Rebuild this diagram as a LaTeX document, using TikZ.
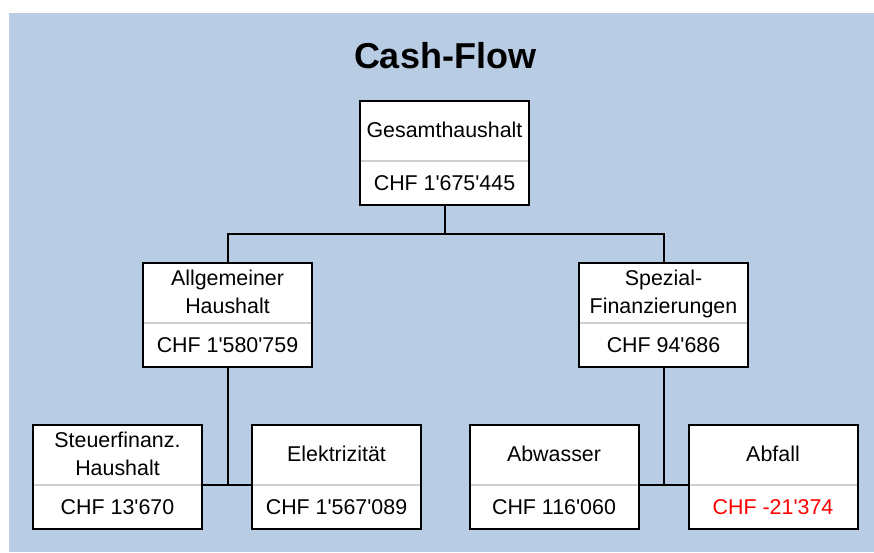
\documentclass[tikz,border=0pt]{standalone}
\usepackage{fontspec}
\setmainfont{Liberation Sans}
\usetikzlibrary{calc}
\definecolor{bgblue}{HTML}{B8CCE4}
\definecolor{divgray}{HTML}{D0D0D0}
\definecolor{negred}{HTML}{FF0000}
\newcommand\ap{\textquotesingle}
\tikzset{
 cfbox/.style={draw=black, line width=2pt, fill=white, minimum width=169pt, minimum height=104pt, inner sep=0pt, outer sep=0pt, anchor=north},
 lbl/.style={font=\fontsize{21.4}{27.5}\selectfont, align=center, inner sep=0pt, outer sep=0pt},
 single/.style={anchor=base, yshift=-36.5pt},
 multi/.style={anchor=north, yshift=-7.4pt},
 divline/.style={draw=divgray, line width=2pt},
 conn/.style={draw=black, line width=2pt},
 titlestyle/.style={font=\bfseries\fontsize{36}{42}\selectfont, anchor=base, inner sep=0pt},
}
\newcommand\cfbox[7]{%
 \node[cfbox] (#1) at (#2,#3) {};
 \coordinate (#1-sl) at ([yshift=-60pt]#1.north west);
 \coordinate (#1-sr) at ([yshift=-60pt]#1.north east);
 \draw[divline, shorten <=1pt, shorten >=1pt] (#1-sl) -- (#1-sr);
 \node[lbl, #4] (#1-t) at (#1.north) {#5};
 \node[lbl, anchor=base, yshift=-89.5pt, text=#7] (#1-v) at (#1.north) {#6};
}
\begin{document}
\begin{tikzpicture}[x=1pt,y=-1pt]
\useasboundingbox (0,0) rectangle (874,552);
\fill[bgblue] (9,13) rectangle (874,552);
\node[titlestyle] (title) at (445,68) {Cash-Flow};
\cfbox{G}{444.5}{101}{single}{Gesamthaushalt}{CHF 1\ap 675\ap 445}{black}
\cfbox{A}{227.5}{263}{multi}{Allgemeiner\\Haushalt}{CHF 1\ap 580\ap 759}{black}
\cfbox{S}{663.5}{263}{multi}{Spezial-\\Finanzierungen}{CHF 94\ap 686}{black}
\cfbox{St}{117.5}{425}{multi}{Steuerfinanz.\\Haushalt}{CHF 13\ap 670}{black}
\cfbox{El}{336.5}{425}{single}{Elektrizität}{CHF 1\ap 567\ap 089}{black}
\cfbox{Ab}{554}{425}{single}{Abwasser}{CHF 116\ap 060}{black}
\cfbox{Af}{773}{425}{single}{Abfall}{CHF -21\ap 374}{negred}
\coordinate (j) at (444.5,234);
\draw[conn] (G.south) -- (j);
\draw[conn] (A.north) |- (j) -| (S.north);
\draw[conn] (A.south) -- (A.south |- St-sr);
\draw[conn] (St-sr) -- (El-sl);
\draw[conn] (S.south) -- (S.south |- Ab-sr);
\draw[conn] (Ab-sr) -- (Af-sl);
\end{tikzpicture}
\end{document}
